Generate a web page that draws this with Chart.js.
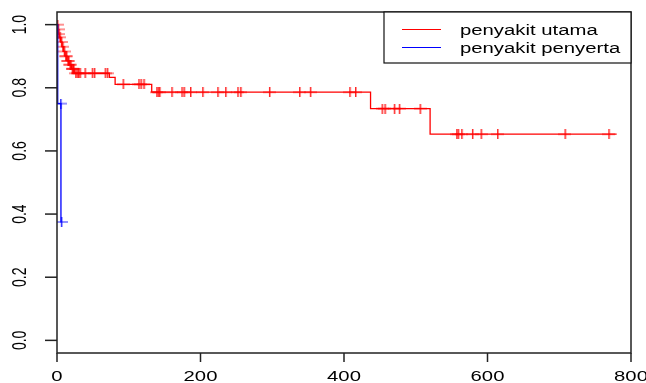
<!DOCTYPE html>
<html>
<head>
<meta charset="utf-8">
<script src="https://cdn.jsdelivr.net/npm/chart.js@4"></script>
<style>
  html, body { margin: 0; padding: 0; background: #fff; }
  canvas { display: block; }
</style>
</head>
<body>
<canvas id="km" width="646" height="383"></canvas>
<script>
// Datos
const seriesLabels = ['penyakit utama', 'penyakit penyerta'];

// Curva roja: tiempos de evento y supervivencia después del evento
const redTimes = [0, 1, 2, 3, 5, 7, 9, 11, 14, 17, 20, 24, 73, 81, 132, 437, 520, 780];
const redSurv  = [1, 0.985, 0.97, 0.96, 0.945, 0.93, 0.915, 0.9, 0.885, 0.873, 0.86, 0.846, 0.833, 0.811, 0.786, 0.734, 0.653, 0.653];
// Censuras rojas
const redCensor = [0.5, 1.5, 2.5, 4, 6, 8, 10, 12, 13, 15, 16, 18, 19, 21, 22, 23, 26, 28, 30,
    32, 39, 49, 52, 67, 70, 92, 114, 117, 121, 139, 141, 143, 160, 174, 177, 186, 203, 224, 235,
    252, 256, 296, 338, 353, 408, 416, 453, 457, 470, 477, 506, 557, 559, 564, 579, 591, 614, 708, 769];

// Curva azul
const blueTimes = [0, 1, 5.5, 6];
const blueSurv  = [1, 0.75, 0.375, 0.375];
const blueCensor = [5, 6];

const xTicks = [0, 200, 400, 600, 800];
const yTicks = [0, 0.2, 0.4, 0.6, 0.8, 1.0];
const yTickLabels = ['0.0', '0.2', '0.4', '0.6', '0.8', '1.0'];

// Helpers
const toPoints = (ts, ss) => ts.map((t, i) => ({ x: t, y: ss[i] }));
function survAt(ts, ss, t) {
    let s = ss[0];
    ts.forEach((tt, i) => { if (tt <= t) s = ss[i]; });
    return s;
}
const censorPoints = (cs, ts, ss) => cs.map(t => ({ x: t, y: survAt(ts, ss, t) }));

const STRETCH = 1.45;   // el original está estirado en horizontal
const FONT = '14px "Liberation Sans", Arial, sans-serif';

// Marca "+" de censura, algo más ancha que alta como en el original
function plusMark(color) {
    const c = document.createElement('canvas');
    c.width = 13;
    c.height = 10;
    const g = c.getContext('2d');
    g.fillStyle = color;
    g.globalAlpha = 0.85;
    g.fillRect(6, 0, 1.5, 10);
    g.fillRect(0, 4.5, 13, 1);
    return c;
}

function stretchedText(ctx, text, x, y, rotate) {
    ctx.save();
    ctx.translate(x, y);
    ctx.scale(STRETCH, 1);
    if (rotate) ctx.rotate(-Math.PI / 2);
    ctx.fillText(text, 0, 0);
    ctx.restore();
}

// Ejes, marco y leyenda estilo R
const rFrame = {
    id: 'rFrame',
    afterDraw(chart) {
        const { ctx, chartArea: a, scales: { x, y } } = chart;
        ctx.save();
        ctx.strokeStyle = '#222';
        ctx.lineWidth = 1.5;
        ctx.strokeRect(a.left, a.top, a.right - a.left, a.bottom - a.top);

        ctx.fillStyle = '#000';
        ctx.font = FONT;
        ctx.textAlign = 'center';
        ctx.textBaseline = 'middle';

        yTicks.forEach((v, i) => {
            const py = y.getPixelForValue(v);
            ctx.beginPath();
            ctx.moveTo(a.left - 12, py);
            ctx.lineTo(a.left, py);
            ctx.stroke();
            stretchedText(ctx, yTickLabels[i], 20, py, true);
        });
        xTicks.forEach(v => {
            const px = x.getPixelForValue(v);
            ctx.beginPath();
            ctx.moveTo(px, a.bottom);
            ctx.lineTo(px, a.bottom + 9);
            ctx.stroke();
            stretchedText(ctx, String(v), px, 377, false);
        });

        // Leyenda
        const box = { l: 384, t: 12, r: a.right, b: 63 };
        ctx.fillStyle = '#fff';
        ctx.fillRect(box.l, box.t, box.r - box.l, box.b - box.t);
        ctx.strokeStyle = '#111';
        ctx.lineWidth = 1.2;
        ctx.strokeRect(box.l, box.t, box.r - box.l, box.b - box.t);
        const rows = [
            { label: seriesLabels[0], color: '#ff0000', y: 29.5 },
            { label: seriesLabels[1], color: '#0000ff', y: 47.5 }
        ];
        ctx.textAlign = 'left';
        rows.forEach(r => {
            ctx.strokeStyle = r.color;
            ctx.lineWidth = 1;
            ctx.beginPath();
            ctx.moveTo(402, r.y);
            ctx.lineTo(441, r.y);
            ctx.stroke();
            ctx.fillStyle = '#000';
            stretchedText(ctx, r.label, 460, r.y + 1.5, false);
        });
        ctx.restore();
    }
};

new Chart(document.getElementById('km'), {
    type: 'scatter',
    data: {
        datasets: [
            {
                label: seriesLabels[0],
                data: toPoints(redTimes, redSurv),
                showLine: true,
                stepped: 'before',
                borderColor: '#ff0000',
                borderWidth: 1.3,
                pointRadius: 0,
                order: 4
            },
            {
                label: seriesLabels[0] + ' (censor)',
                data: censorPoints(redCensor, redTimes, redSurv),
                showLine: false,
                pointStyle: plusMark('#ff0000'),
                pointRadius: 5,
                order: 3
            },
            {
                label: seriesLabels[1],
                data: toPoints(blueTimes, blueSurv),
                showLine: true,
                stepped: 'before',
                borderColor: '#0000ff',
                borderWidth: 1.3,
                pointRadius: 0,
                order: 2
            },
            {
                label: seriesLabels[1] + ' (censor)',
                data: censorPoints(blueCensor, blueTimes, blueSurv),
                showLine: false,
                pointStyle: plusMark('#0000ff'),
                pointRadius: 5,
                order: 1
            }
        ]
    },
    options: {
        responsive: false,
        animation: false,
        devicePixelRatio: 1,
        layout: { padding: { left: 57, right: 15, top: 12, bottom: 30 } },
        scales: {
            x: { type: 'linear', min: 0, max: 800, display: false },
            y: { type: 'linear', min: -0.04, max: 1.04, display: false }
        },
        plugins: {
            legend: { display: false },
            tooltip: { enabled: false }
        }
    },
    plugins: [rFrame]
});
</script>
</body>
</html>
